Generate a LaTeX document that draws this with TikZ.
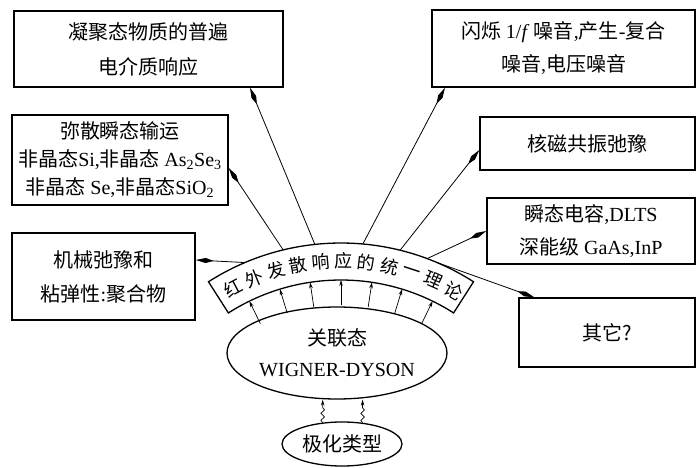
\documentclass[tikz,border=0pt]{standalone}
\usepackage{fontspec}
\setmainfont{Liberation Serif}
\newfontfamily\cjk{Noto Sans CJK SC}
\usetikzlibrary{arrows.meta,shapes.geometric,calc,decorations.pathmorphing}
\newcommand\lat[1]{{\rmfamily #1}}
\begin{document}
\begin{tikzpicture}[x=1pt,y=-1pt,
  every node/.style={font=\cjk\fontsize{20}{33}\selectfont, align=center},
  box/.style={draw, line width=1.4pt, inner sep=0pt},
  oval/.style={draw, ellipse, line width=1.3pt, inner sep=0pt},
  outarrow/.style={line width=0.8pt, -{Kite[length=18pt,width=5pt,inset=8pt]}},
  inarrow/.style={line width=0.7pt, -{Stealth[length=6pt,width=3.5pt]}},
  wavy/.style={line width=0.7pt, -{Stealth[length=6pt,width=3.5pt]}, decorate,
    decoration={snake, amplitude=1.8pt, segment length=7pt, post length=6pt}},
  band/.style={draw, line width=1.3pt},
  bandchar/.style={font=\cjk\fontsize{18}{18}\selectfont, inner sep=0pt}]

\useasboundingbox (0,0) rectangle (699,468);
\fill[white] (0,0) rectangle (699,468);

% boxes
\node[box, minimum width=269pt, minimum height=76pt] (B1) at (148.5,49)
  {凝聚态物质的普遍\\[2pt]电介质响应};
\node[box, minimum width=263pt, minimum height=77pt] (B2) at (563.5,48.5)
  {闪烁 \lat{1/\textit{f}} 噪音\lat{,}产生\lat{-}复合\\噪音\lat{,}电压噪音};
\node[box, minimum width=216pt, minimum height=90pt] (B3) at (120,160)
  {弥散瞬态输运\\[-5pt]非晶态\lat{Si,}非晶态 \lat{As\textsubscript{2}Se\textsubscript{3}}\\[-5pt]非晶态 \lat{Se,}非晶态\lat{SiO\textsubscript{2}}};
\node[box, minimum width=215pt, minimum height=53pt] (B4) at (587.5,143.5)
  {核磁共振弛豫};
\node[box, minimum width=208pt, minimum height=66pt] (B5) at (591,231)
  {瞬态电容\lat{,DLTS}\\深能级 \lat{GaAs,InP}};
\node[box, minimum width=183pt, minimum height=87pt] (B6) at (103.5,276.5)
  {机械弛豫和\\[1pt]粘弹性\lat{:}聚合物};
\node[box, minimum width=176pt, minimum height=69pt] (B7) at (607,332.5)
  {其它?};

% ellipses
\node[oval, minimum width=200pt, minimum height=92pt] (E) at (337,353)
  {关联态\\[-2pt]\lat{WIGNER-DYSON}};
\node[oval, minimum width=120pt, minimum height=44pt] (P) at (342,444)
  {极化类型};

% band (unified theory)
\coordinate (C) at (341,489);
\draw[band] ($(C)+(122.6:246pt)$) arc[start angle=122.6, end angle=57.4, radius=246pt]
  -- ($(C)+(57.4:209pt)$) arc[start angle=57.4, end angle=122.6, radius=209pt] -- cycle;
\foreach \ch [count=\i from 0] in {红,外,发,散,响,应,的,统,一,理,论}{
  \pgfmathsetmacro\ang{118.2-\i*5.78}
  \node[bandchar, rotate=\ang-90] (T\i) at ($(C)+(\ang:228pt)$) {\ch};
}

% inner arrows from ellipse to band
\foreach \a [count=\k] in {116,107,98.5,90,81.5,73,64}{
  \coordinate (ib\k) at ($(C)+(\a:184pt)$);
  \coordinate (it\k) at ($(C)+(\a:209pt)$);
  \draw[inarrow] (ib\k) -- (it\k);
}

% outer arrows from band to boxes
\coordinate (o1) at ($(C)+(96.1:246pt)$);
\coordinate (o2) at ($(C)+(84.9:246pt)$);
\coordinate (o3) at ($(C)+(103.6:246pt)$);
\coordinate (o4) at ($(C)+(76.1:246pt)$);
\coordinate (o5) at ($(C)+(69.5:246pt)$);
\coordinate (o6) at ($(C)+(113:246pt)$);
\coordinate (o7) at ($(C)+(67:246pt)$);
\draw[outarrow] (o1) -- ([xshift=101.5pt]B1.south);
\draw[outarrow] (o2) -- ([xshift=-118.5pt]B2.south);
\draw[outarrow] (o3) -- ([yshift=-8pt]B3.east);
\draw[outarrow] (o4) -- ([yshift=-6.5pt]B4.west);
\draw[outarrow] (o5) -- (B5.west);
\draw[outarrow] (o6) -- ([yshift=16.5pt]B6.east);
\draw[outarrow] (o7) -- ([xshift=16pt]B7.north west);

% wavy arrows from polarization to ellipse
\draw[wavy] (P.132) -- (P.132 |- E.south);
\draw[wavy] (P.46) -- (P.46 |- E.south);
\end{tikzpicture}
\end{document}
